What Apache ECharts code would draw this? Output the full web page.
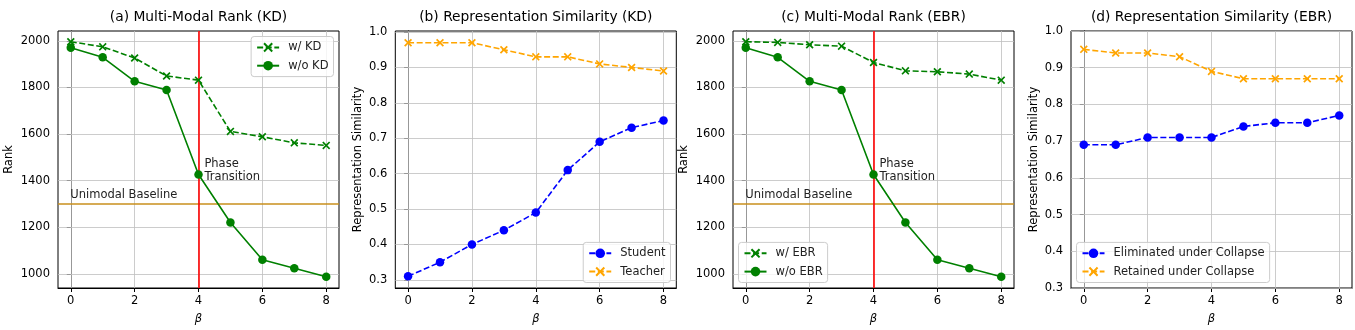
<!DOCTYPE html>
<html>
<head>
<meta charset="utf-8">
<script src="https://cdn.jsdelivr.net/npm/echarts@6/dist/echarts.min.js"></script>
<style>
html,body{margin:0;padding:0;background:#fff;}
#c{width:1355px;height:330px;}
</style>
</head>
<body>
<div id="c"></div>
<script>
// ---- data ----
const betas = [0, 1, 2, 3, 4, 5, 6, 7, 8];
const rankWithKD = [1996, 1974, 1926, 1849, 1831, 1611, 1588, 1562, 1551];
const rankWithoutKD = [1970, 1929, 1826, 1789, 1426, 1220, 1060, 1024, 987];
const simStudent = [0.31, 0.35, 0.40, 0.44, 0.49, 0.61, 0.69, 0.73, 0.75];
const simTeacher = [0.97, 0.97, 0.97, 0.95, 0.93, 0.93, 0.91, 0.90, 0.89];
const rankWithEBR = [1996, 1993, 1983, 1977, 1907, 1871, 1867, 1857, 1831];
const rankWithoutEBR = [1970, 1929, 1826, 1789, 1426, 1220, 1060, 1024, 987];
const simEliminated = [0.69, 0.69, 0.71, 0.71, 0.71, 0.74, 0.75, 0.75, 0.77];
const simRetained = [0.95, 0.94, 0.94, 0.93, 0.89, 0.87, 0.87, 0.87, 0.87];

const xTicks = [0, 2, 4, 6, 8];
const rankTicks = [1000, 1200, 1400, 1600, 1800, 2000];
const simTicks = [0.3, 0.4, 0.5, 0.6, 0.7, 0.8, 0.9, 1.0];

const titles = ['(a) Multi-Modal Rank (KD)', '(b) Representation Similarity (KD)',
                '(c) Multi-Modal Rank (EBR)', '(d) Representation Similarity (EBR)'];
const yNames = ['Rank', 'Representation Similarity', 'Rank', 'Representation Similarity'];
const xName = 'β';
const baselineValue = 1300;
const baselineLabel = 'Unimodal Baseline';
const baselineLabelPos = [0, 1320];
const transitionBeta = 4;
const transitionLabel = 'Phase\nTransition';
const transitionLabelPos = [4.2, 1400];

// ---- layout/style ----
const FONT = 'DejaVu Sans';
const TXT = '#000';
const FS = 11.5;
const gridLefts = [58, 395.3, 733, 1071];
const GW = 281, GT = 31, GH = 257;
const yRanges = [[939, 2042], [0.277, 1.003], [939, 2042], [0.3, 1.0]];
const yTickSets = [rankTicks, simTicks, rankTicks, simTicks];
const nameGaps = [43, 31, 43, 31];
const XSYM = 'path://M0,1.5L1.5,0L5,3.5L8.5,0L10,1.5L6.5,5L10,8.5L8.5,10L5,6.5L1.5,10L0,8.5L3.5,5Z';
const DASH = [6, 2.6];

const pts = arr => betas.map((b, i) => [b, arr[i]]);

const grid = [], xAxis = [], yAxis = [], title = [], series = [];
for (let i = 0; i < 4; i++) {
  grid.push({left: gridLefts[i], top: GT, width: GW, height: GH, show: true,
             borderColor: '#000', borderWidth: 1, backgroundColor: 'transparent'});
  title.push({text: titles[i], left: gridLefts[i] + GW / 2, top: 10, textAlign: 'center', padding: 0,
              textStyle: {fontFamily: FONT, fontSize: 13.8, fontWeight: 'normal', color: TXT}});
  xAxis.push({type: 'value', gridIndex: i, min: -0.4, max: 8.4,
    name: xName, nameLocation: 'middle', nameGap: 25,
    nameTextStyle: {fontFamily: FONT, fontSize: FS, fontStyle: 'italic', color: TXT},
    axisLine: {show: true, lineStyle: {color: '#000', width: 1}},
    axisTick: {show: true, length: 4, lineStyle: {color: '#000', width: 1}, customValues: xTicks},
    axisLabel: {show: true, margin: 7, fontFamily: FONT, fontSize: FS, color: TXT, customValues: xTicks,
                formatter: v => String(v)},
    splitLine: {show: false}});
  const fmt = (i % 2 === 0) ? (v => String(Math.round(v))) : (v => v.toFixed(1));
  yAxis.push({type: 'value', gridIndex: i, min: yRanges[i][0], max: yRanges[i][1],
    name: yNames[i], nameLocation: 'middle', nameGap: nameGaps[i], nameRotate: 90,
    nameTextStyle: {fontFamily: FONT, fontSize: FS, color: TXT},
    axisLine: {show: true, lineStyle: {color: '#000', width: 1}},
    axisTick: {show: true, length: 4, lineStyle: {color: '#000', width: 1}, customValues: yTickSets[i]},
    axisLabel: {show: true, margin: 8, fontFamily: FONT, fontSize: FS, color: TXT, customValues: yTickSets[i],
                formatter: fmt},
    splitLine: {show: false}});
  // gridlines
  series.push({type: 'line', name: 'grid' + i, xAxisIndex: i, yAxisIndex: i, data: [], z: 1, silent: true,
    markLine: {silent: true, z: 1, symbol: ['none', 'none'], animation: false, label: {show: false},
      lineStyle: {color: '#bfbfbf', width: 0.8, type: 'solid'},
      emphasis: {disabled: true},
      data: xTicks.map(v => ({xAxis: v})).concat(yTickSets[i].map(v => ({yAxis: v})))}});
}

function lineSeries(name, idx, arr, color, dashed, sym) {
  return {type: 'line', name, xAxisIndex: idx, yAxisIndex: idx, data: pts(arr), z: 4,
    symbol: sym === 'x' ? XSYM : 'circle', symbolSize: sym === 'x' ? 8 : 8.5, showSymbol: true,
    itemStyle: {color}, lineStyle: {color, width: 1.6, type: dashed ? DASH : 'solid'},
    emphasis: {disabled: true}, animation: false};
}
function refLines(idx) {
  return {type: 'line', name: 'ref' + idx, xAxisIndex: idx, yAxisIndex: idx, data: [], z: 3, silent: true,
    markLine: {silent: true, z: 3, symbol: ['none', 'none'], animation: false, label: {show: false},
      emphasis: {disabled: true},
      data: [
        {yAxis: baselineValue, lineStyle: {color: '#c98f1c', width: 1.6, type: 'solid'}},
        {xAxis: transitionBeta, lineStyle: {color: '#ff0000', width: 1.6, type: 'solid'}}
      ]}};
}
function textSeries(idx, pos, text) {
  return {type: 'scatter', name: 'txt' + idx + text, xAxisIndex: idx, yAxisIndex: idx, data: [pos], z: 5,
    symbolSize: 1, itemStyle: {color: '#ffffff', opacity: 0}, silent: true, animation: false,
    label: {show: true, position: [0, 0], align: 'left', verticalAlign: 'bottom', offset: [0, 3],
      formatter: text, fontFamily: FONT, fontSize: FS, lineHeight: 13, color: '#222',
      opacity: 1, textBorderWidth: 0, textBorderColor: 'transparent'}};
}

series.push(lineSeries('w/ KD', 0, rankWithKD, '#008000', true, 'x'));
series.push(lineSeries('w/o KD', 0, rankWithoutKD, '#008000', false, 'o'));
series.push(refLines(0));
series.push(textSeries(0, baselineLabelPos, baselineLabel));
series.push(textSeries(0, transitionLabelPos, transitionLabel));

series.push(lineSeries('Student', 1, simStudent, '#0000ff', true, 'o'));
series.push(lineSeries('Teacher', 1, simTeacher, '#ffa500', true, 'x'));

series.push(lineSeries('w/ EBR', 2, rankWithEBR, '#008000', true, 'x'));
series.push(lineSeries('w/o EBR', 2, rankWithoutEBR, '#008000', false, 'o'));
series.push(refLines(2));
series.push(textSeries(2, baselineLabelPos, baselineLabel));
series.push(textSeries(2, transitionLabelPos, transitionLabel));

series.push(lineSeries('Eliminated under Collapse', 3, simEliminated, '#0000ff', true, 'o'));
series.push(lineSeries('Retained under Collapse', 3, simRetained, '#ffa500', true, 'x'));

const legendBase = {orient: 'vertical', itemWidth: 22, itemHeight: 12, itemGap: 5.3,
  padding: [4.4, 5, 4.4, 5], backgroundColor: 'rgba(255,255,255,0.8)', borderColor: '#cccccc',
  borderWidth: 1, borderRadius: 3, selectedMode: false,
  textStyle: {fontFamily: FONT, fontSize: FS, lineHeight: 13, color: '#222', padding: [0, 0, 0, 4]}};
const legend = [
  Object.assign({}, legendBase, {data: ['w/ KD', 'w/o KD'], right: 1355 - 333.5, top: 36.5}),
  Object.assign({}, legendBase, {data: ['Student', 'Teacher'], right: 1355 - 670.5, bottom: 330 - 282.5}),
  Object.assign({}, legendBase, {data: ['w/ EBR', 'w/o EBR'], left: 738.5, bottom: 330 - 282.5}),
  Object.assign({}, legendBase, {data: ['Eliminated under Collapse', 'Retained under Collapse'], left: 1076.5, bottom: 330 - 282.5})
];

const chart = echarts.init(document.getElementById('c'), null, {renderer: 'canvas'});
chart.setOption({animation: false, backgroundColor: '#fff', title, grid, xAxis, yAxis, legend, series});
</script>
</body>
</html>
